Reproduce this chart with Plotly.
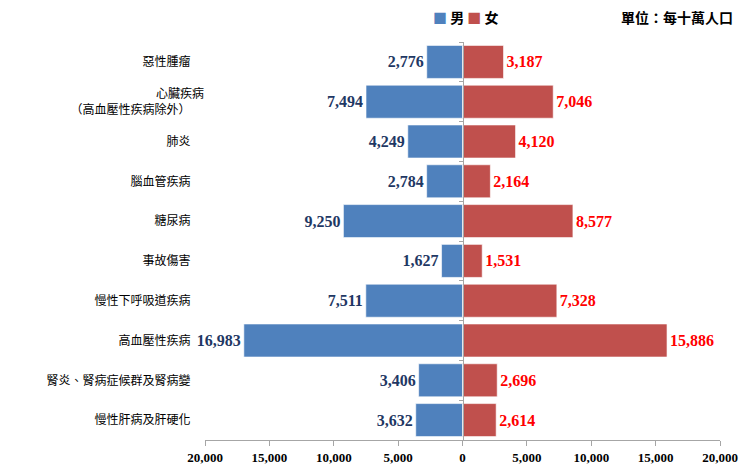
import plotly.graph_objects as go

# Causes of death, top to bottom as in the source chart
categories = [
    "惡性腫瘤",
    "心臟疾病<br>（高血壓性疾病除外）",
    "肺炎",
    "腦血管疾病",
    "糖尿病",
    "事故傷害",
    "慢性下呼吸道疾病",
    "高血壓性疾病",
    "腎炎、腎病症候群及腎病變",
    "慢性肝病及肝硬化",
]
male = [2776, 7494, 4249, 2784, 9250, 1627, 7511, 16983, 3406, 3632]
female = [3187, 7046, 4120, 2164, 8577, 1531, 7328, 15886, 2696, 2614]

tick_vals = [-20000, -15000, -10000, -5000, 0, 5000, 10000, 15000, 20000]
tick_text = [f"{abs(v):,}" for v in tick_vals]

MALE_COLOR = "#4F81BD"
FEMALE_COLOR = "#C0504D"
SERIF = "Liberation Serif, Times New Roman, serif"
CJK = "Noto Sans CJK TC, sans-serif"

fig = go.Figure()
fig.add_trace(go.Bar(
    y=categories, x=[-v for v in male], orientation="h", name="男",
    marker=dict(color=MALE_COLOR, line=dict(color="rgba(255,255,255,0.6)", width=1)),
    text=[f"{v:,}" for v in male], textposition="outside",
    textfont=dict(family=SERIF, size=16, color="#1F3864", weight="bold"),
    cliponaxis=False,
))
fig.add_trace(go.Bar(
    y=categories, x=female, orientation="h", name="女",
    marker=dict(color=FEMALE_COLOR, line=dict(color="rgba(255,255,255,0.6)", width=1)),
    text=[f"{v:,}" for v in female], textposition="outside",
    textfont=dict(family=SERIF, size=16, color="#FF0000", weight="bold"),
    cliponaxis=False,
))
# invisible trace to carry the centre axis with boundary ticks
fig.add_trace(go.Bar(
    y=categories, x=[0] * len(categories), orientation="h", yaxis="y2",
    showlegend=False, hoverinfo="skip", marker=dict(color="rgba(0,0,0,0)"),
))

# page body has an 8px margin, so the figure is drawn 8px smaller
fig.update_layout(
    width=744, height=459,
    paper_bgcolor="white", plot_bgcolor="white",
    barmode="overlay", bargap=0.17, showlegend=False,
    margin=dict(l=197, r=32, t=34, b=27, autoexpand=False),
    font=dict(family=CJK, color="#000000"),
    xaxis=dict(
        range=[-20000, 20000], tickvals=tick_vals, ticktext=tick_text,
        tickfont=dict(family=SERIF, size=13, color="#000000", weight="bold"),
        showgrid=False, zeroline=False,
        showline=True, linecolor="#A6A6A6", linewidth=1,
        ticks="outside", ticklen=5, tickcolor="#A6A6A6",
    ),
    yaxis=dict(
        autorange="reversed", showgrid=False, showline=False, ticks="",
        tickfont=dict(family=CJK, size=12, color="#000000"),
        ticksuffix="     ",
    ),
    yaxis2=dict(
        overlaying="y", matches="y", anchor="free", position=0.5,
        showticklabels=False, showgrid=False, showline=True,
        linecolor="#A6A6A6", linewidth=1,
        ticks="outside", tickson="boundaries", ticklen=4, tickcolor="#A6A6A6",
    ),
)

# compact legend drawn as text, as in the original
legend_text = (
    f"<span style='color:{MALE_COLOR}'>■</span> 男 "
    f"<span style='color:{FEMALE_COLOR}'>■</span> 女"
)
fig.add_annotation(
    text=legend_text, xref="paper", yref="paper",
    x=0.507, y=1.063, xanchor="center", yanchor="middle", showarrow=False,
    font=dict(family=CJK, size=14, color="#000000", weight="bold"),
)
fig.add_annotation(
    text="單位：每十萬人口", xref="paper", yref="paper",
    x=1.029, y=1.063, xanchor="right", yanchor="middle", showarrow=False,
    font=dict(family=CJK, size=14, color="#000000", weight="bold"),
)

fig.write_html("out.html")
